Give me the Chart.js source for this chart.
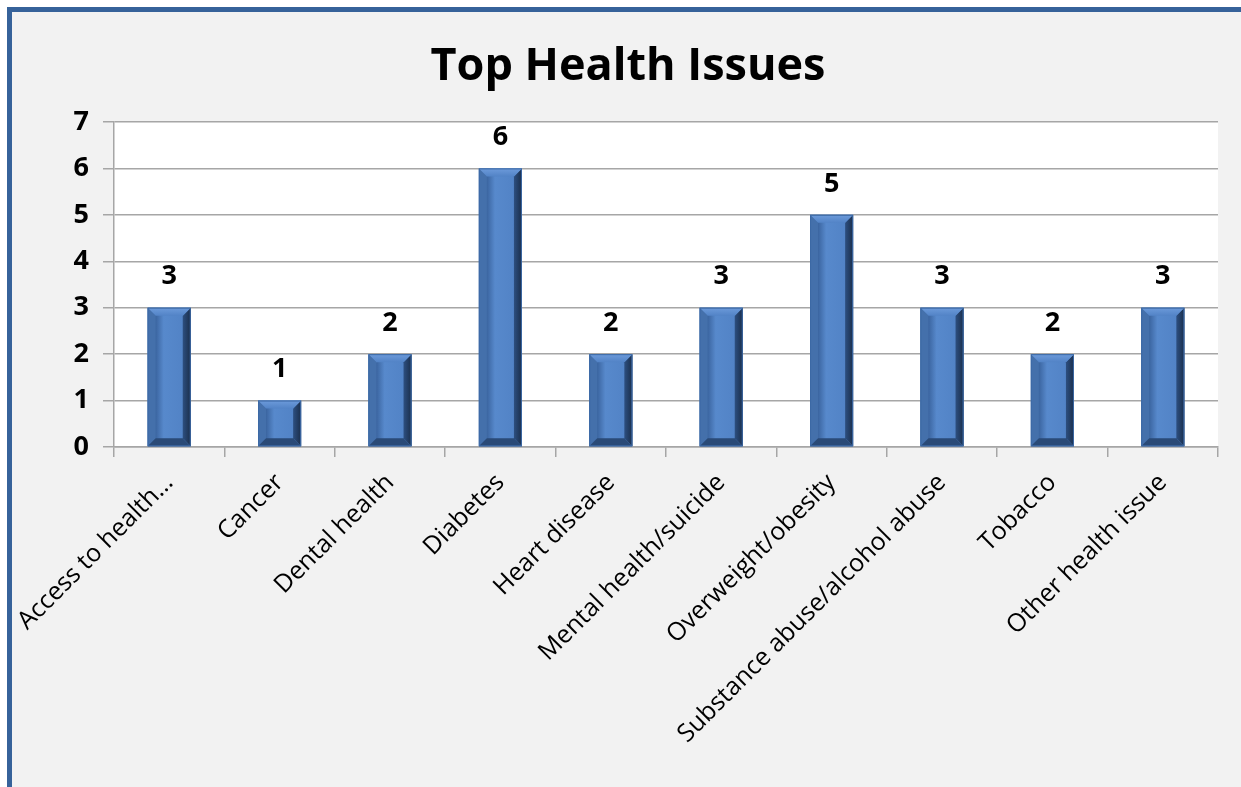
<!DOCTYPE html>
<html>
<head>
<meta charset="utf-8">
<title>Top Health Issues</title>
<script src="https://cdn.jsdelivr.net/npm/chart.js@4.4.1/dist/chart.umd.min.js"></script>
<style>
    html, body { margin: 0; padding: 0; background: #ffffff; }
    #frame {
        position: absolute;
        left: 7px;
        top: 7px;
        width: 1229px;
        height: 775px;
        border-top: 5px solid #36629a;
        border-left: 5px solid #36629a;
        background: #f2f2f2;
    }
    canvas { display: block; }
</style>
</head>
<body>
<div id="frame">
    <canvas id="healthChart" width="1229" height="775"></canvas>
</div>
<script>
const categories = ['Access to health…', 'Cancer', 'Dental health', 'Diabetes', 'Heart disease',
    'Mental health/suicide', 'Overweight/obesity', 'Substance abuse/alcohol abuse', 'Tobacco', 'Other health issue'];
const counts = [3, 1, 2, 6, 2, 3, 5, 3, 2, 3];
const yTicks = [0, 1, 2, 3, 4, 5, 6, 7];

const gridColor = '#a6a6a6';

// white plot background
const plotBackground = {
    id: 'plotBackground',
    beforeDraw(chart) {
        const { ctx, chartArea } = chart;
        ctx.save();
        ctx.fillStyle = '#ffffff';
        ctx.fillRect(chartArea.left, chartArea.top, chartArea.right - chartArea.left, chartArea.bottom - chartArea.top);
        ctx.restore();
    }
};

// bevelled look on top of each bar
const bevelBars = {
    id: 'bevelBars',
    afterDatasetsDraw(chart) {
        const ctx = chart.ctx;
        const meta = chart.getDatasetMeta(0);
        meta.data.forEach(bar => {
            const l = bar.x - bar.width / 2;
            const r = bar.x + bar.width / 2;
            const t = bar.y;
            const btm = bar.base;
            const b = Math.min(8, (btm - t) / 2);

            ctx.save();
            const face = ctx.createLinearGradient(l + b, 0, r - b, 0);
            face.addColorStop(0, '#3b65a0');
            face.addColorStop(0.3, '#5789cc');
            face.addColorStop(1, '#5283c6');
            ctx.fillStyle = face;
            ctx.fillRect(l, t, r - l, btm - t);

            function poly(points, fill) {
                ctx.beginPath();
                ctx.moveTo(points[0][0], points[0][1]);
                for (let i = 1; i < points.length; i++) ctx.lineTo(points[i][0], points[i][1]);
                ctx.closePath();
                ctx.fillStyle = fill;
                ctx.fill();
            }

            // left edge
            poly([[l, t], [l + b, t + b], [l + b, btm - b], [l, btm]], '#4470ab');
            // right edge
            const rg = ctx.createLinearGradient(r, 0, r - b, 0);
            rg.addColorStop(0, '#1a2e4b');
            rg.addColorStop(1, '#2d4f80');
            poly([[r, t], [r, btm], [r - b, btm - b], [r - b, t + b]], rg);
            // bottom edge
            poly([[l, btm], [r, btm], [r - b, btm - b], [l + b, btm - b]], '#2a4a77');
            // top edge
            const tg = ctx.createLinearGradient(0, t, 0, t + b);
            tg.addColorStop(0, '#6d9bdb');
            tg.addColorStop(1, '#5283c6');
            poly([[l, t], [r, t], [r - b, t + b], [l + b, t + b]], tg);

            ctx.strokeStyle = '#3d6aa6';
            ctx.lineWidth = 1;
            ctx.strokeRect(l + 0.5, t + 0.5, r - l - 1, btm - t - 1);
            ctx.restore();
        });
    }
};

// value labels above the bars
const valueLabels = {
    id: 'valueLabels',
    afterDraw(chart) {
        const ctx = chart.ctx;
        const meta = chart.getDatasetMeta(0);
        ctx.save();
        ctx.font = 'bold 27px "Open Sans"';
        ctx.fillStyle = '#000000';
        ctx.textAlign = 'center';
        ctx.textBaseline = 'middle';
        meta.data.forEach((bar, i) => {
            ctx.fillText(String(counts[i]), bar.x, bar.y - 31);
        });
        ctx.restore();
    }
};

const ctx = document.getElementById('healthChart').getContext('2d');
new Chart(ctx, {
    type: 'bar',
    data: {
        labels: categories,
        datasets: [{
            label: 'Top Health Issues',
            data: counts,
            backgroundColor: '#4f81bd',
            borderWidth: 0,
            categoryPercentage: 1.0,
            barPercentage: 0.39
        }]
    },
    options: {
        responsive: false,
        animation: false,
        devicePixelRatio: 1,
        layout: {
            padding: { left: 26, right: 23, top: 0, bottom: 0 }
        },
        plugins: {
            legend: { display: false },
            tooltip: { enabled: false },
            title: {
                display: true,
                text: 'Top Health Issues',
                color: '#000000',
                font: { family: '"Open Sans"', size: 45, weight: 'bold' },
                padding: { top: 28, bottom: 28 }
            }
        },
        scales: {
            x: {
                grid: {
                    drawOnChartArea: false,
                    color: gridColor,
                    lineWidth: 1.5,
                    tickLength: 10
                },
                border: { color: gridColor, width: 1.5 },
                ticks: {
                    color: '#000000',
                    font: { family: '"Open Sans"', size: 25 },
                    minRotation: 45,
                    maxRotation: 45,
                    autoSkip: false,
                    padding: 11
                },
                afterFit(scale) {
                    scale.height = 340;
                    scale.paddingLeft = 0;
                    scale.paddingRight = 0;
                }
            },
            y: {
                min: 0,
                max: 7,
                afterBuildTicks(scale) {
                    scale.ticks = yTicks.map(v => ({ value: v }));
                },
                grid: {
                    color: gridColor,
                    lineWidth: 1.5,
                    tickLength: 11
                },
                border: { color: gridColor, width: 1.5 },
                ticks: {
                    color: '#000000',
                    font: { family: '"Open Sans"', size: 27, weight: 'bold' },
                    padding: 14
                },
                afterFit(scale) { scale.width = 76; }
            }
        }
    },
    plugins: [plotBackground, bevelBars, valueLabels]
});
</script>
</body>
</html>
